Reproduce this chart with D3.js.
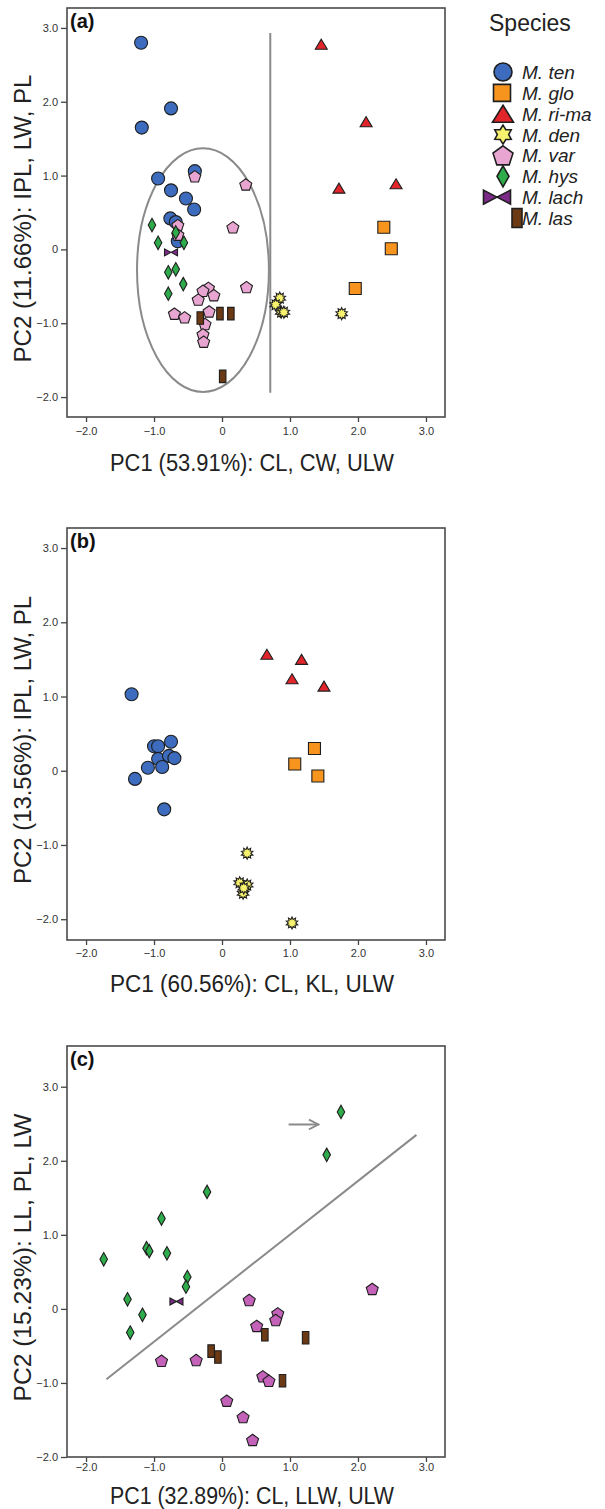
<!DOCTYPE html>
<html>
<head>
<meta charset="utf-8">
<script src="https://cdn.jsdelivr.net/npm/d3@7"></script>
<style>
  body { margin: 0; background: #fff; }
  svg { display: block; font-family: "Liberation Sans", Arial, sans-serif; }
</style>
</head>
<body>
<svg id="chart" width="605" height="1509"></svg>
<script>
// ---- data (PC1, PC2) ----
const speciesNames = ["M. ten", "M. glo", "M. ri-ma", "M. den", "M. var", "M. hys", "M. lach", "M. las"];
const tickValues = [-2, -1, 0, 1, 2, 3];

// panel (a)
const aTen = [[-1.19, 2.80], [-0.75, 1.91], [-1.18, 1.65], [-0.94, 0.96], [-0.40, 1.06], [-0.75, 0.80],
  [-0.53, 0.69], [-0.41, 0.54], [-0.76, 0.42], [-0.68, 0.37], [-0.65, 0.11]];
const aGlo = [[2.38, 0.30], [2.49, 0.01], [1.96, -0.53]];
const aRima = [[1.46, 2.78], [2.12, 1.73], [1.72, 0.83], [2.56, 0.89]];
const aDen = [[0.85, -0.66], [0.79, -0.75], [0.87, -0.85], [0.91, -0.85], [1.76, -0.87]];
const aVar = [[-0.40, 0.99], [0.35, 0.88], [-0.65, 0.33], [0.16, 0.30], [-0.65, 0.20],
  [-0.20, -0.52], [-0.28, -0.56], [-0.12, -0.62], [0.36, -0.51], [-0.70, -0.87], [-0.55, -0.92],
  [-0.35, -0.68], [-0.19, -0.84], [-0.25, -1.01], [-0.28, -1.15], [-0.27, -1.25]];
const aHys = [[-1.03, 0.33], [-0.94, 0.09], [-0.68, 0.23], [-0.56, 0.09], [-0.79, -0.31],
  [-0.68, -0.27], [-0.57, -0.47], [-0.79, -0.60]];
const aLach = [[-0.75, -0.04]];
const aLas = [[-0.32, -0.93], [-0.03, -0.87], [0.13, -0.87], [0.01, -1.72]];

// panel (b)
const bTen = [[-1.33, 1.03], [-1.00, 0.33], [-0.94, 0.33], [-0.75, 0.39], [-0.94, 0.16], [-0.78, 0.20],
  [-0.70, 0.17], [-1.09, 0.04], [-0.88, 0.05], [-1.28, -0.11], [-0.85, -0.52]];
const bGlo = [[1.36, 0.30], [1.07, 0.09], [1.41, -0.07]];
const bRima = [[0.66, 1.57], [1.17, 1.50], [1.03, 1.24], [1.50, 1.14]];
const bDen = [[0.37, -1.11], [0.26, -1.51], [0.37, -1.54], [0.31, -1.65], [0.32, -1.58], [1.03, -2.05]];

// panel (c)
const cHys = [[1.75, 2.66], [1.54, 2.08], [-0.22, 1.58], [-0.89, 1.22], [-1.11, 0.82], [-1.07, 0.78],
  [-0.81, 0.75], [-1.74, 0.67], [-0.51, 0.43], [-0.53, 0.30], [-1.39, 0.13], [-1.17, -0.08], [-1.35, -0.32]];
const cLach = [[-0.67, 0.10]];
const cVar = [[0.40, 0.12], [2.21, 0.27], [0.51, -0.23], [0.82, -0.06], [0.79, -0.15], [-0.89, -0.70],
  [-0.38, -0.69], [0.60, -0.91], [0.69, -0.97], [0.07, -1.24], [0.31, -1.46], [0.45, -1.77]];
const cLas = [[0.63, -0.35], [1.23, -0.39], [-0.16, -0.57], [-0.06, -0.65], [0.89, -0.97]];

// reference guides
const aDivider = [[0.71, 2.93], [0.71, -1.94]];
const aEllipse = { cx: -0.28, cy: -0.28, rx: 0.97, ry: 1.65 };
const cDivider = [[-1.70, -0.95], [2.86, 2.35]];
const cArrow = [[0.98, 2.49], [1.42, 2.49]];

// ---- styling ----
const style = {
  "M. ten":   { kind: "circle",   fill: "#3d6bbd", w: 13, h: 13, lw: 18, lh: 18, lx: 503 },
  "M. glo":   { kind: "square",   fill: "#f7941e", w: 12, h: 12, lw: 17, lh: 17, lx: 502 },
  "M. ri-ma": { kind: "triangle", fill: "#e2242b", w: 12, h: 10, lw: 21, lh: 17, lx: 503 },
  "M. den":   { kind: "sun",      fill: "#f7f26e", w: 12, h: 12, lw: 19, lh: 19, lx: 503 },
  "M. var":   { kind: "pentagon", fill: "#e9a5d2", w: 12, h: 12, lw: 20, lh: 19, lx: 503 },
  "M. hys":   { kind: "diamond",  fill: "#2eab4a", w: 7.5, h: 13.5, lw: 12, lh: 21, lx: 503 },
  "M. lach":  { kind: "bowtie",   fill: "#7b2a87", w: 13, h: 7, lw: 27, lh: 14, lx: 497 },
  "M. las":   { kind: "bar",      fill: "#6b3914", w: 6.5, h: 12.5, lw: 10, lh: 19, lx: 517 }
};

function shapeType(kind, w, h, legend) {
  return {
    draw(c) {
      if (kind === "circle") {
        c.moveTo(w / 2, 0); c.arc(0, 0, w / 2, 0, 2 * Math.PI);
      } else if (kind === "square" || kind === "bar") {
        c.rect(-w / 2, -h / 2, w, h);
      } else if (kind === "triangle") {
        c.moveTo(0, -h / 2); c.lineTo(w / 2, h / 2); c.lineTo(-w / 2, h / 2); c.closePath();
      } else if (kind === "sun") {
        const n = legend ? 6 : 10, ro = w / 2, ri = legend ? ro * 0.6 : ro * 0.62;
        for (let i = 0; i < 2 * n; i++) {
          const a = -Math.PI / 2 + i * Math.PI / n, r = i % 2 ? ri : ro;
          i ? c.lineTo(r * Math.cos(a), r * Math.sin(a)) : c.moveTo(r * Math.cos(a), r * Math.sin(a));
        }
        c.closePath();
      } else if (kind === "pentagon") {
        const r = w / 2 / Math.sin(2 * Math.PI / 5);
        for (let i = 0; i < 5; i++) {
          const a = -Math.PI / 2 + i * 2 * Math.PI / 5;
          i ? c.lineTo(r * Math.cos(a), r * Math.sin(a) + h * 0.05) : c.moveTo(r * Math.cos(a), r * Math.sin(a) + h * 0.05);
        }
        c.closePath();
      } else if (kind === "diamond") {
        c.moveTo(0, -h / 2); c.lineTo(w / 2, 0); c.lineTo(0, h / 2); c.lineTo(-w / 2, 0); c.closePath();
      } else if (kind === "bowtie") {
        c.moveTo(-w / 2, -h / 2); c.lineTo(0, 0); c.lineTo(w / 2, -h / 2);
        c.lineTo(w / 2, h / 2); c.lineTo(0, 0); c.lineTo(-w / 2, h / 2); c.closePath();
      }
    }
  };
}

const fmt = v => v === 0 ? "0" : d3.format(".1f")(v);

const panels = [
  { label: "(a)", top: 8, bottom: 417, yDomain: [-2.27, 3.27], xTitleY: 471, tickPad: 5,
    xTitle: "PC1 (53.91%): CL, CW, ULW", yTitle: "PC2 (11.66%): IPL, LW, PL",
    series: [["M. ten", aTen], ["M. glo", aGlo], ["M. ri-ma", aRima], ["M. den", aDen],
             ["M. var", aVar], ["M. hys", aHys], ["M. lach", aLach], ["M. las", aLas]] },
  { label: "(b)", top: 528, bottom: 940, yDomain: [-2.28, 3.27], xTitleY: 992, tickPad: 4,
    xTitle: "PC1 (60.56%): CL, KL, ULW", yTitle: "PC2 (13.56%): IPL, LW, PL",
    series: [["M. ten", bTen], ["M. glo", bGlo], ["M. ri-ma", bRima], ["M. den", bDen]] },
  { label: "(c)", top: 1046, bottom: 1457, yDomain: [-2.0, 3.55], xTitleY: 1504, tickPad: 1,
    xTitle: "PC1 (32.89%): CL, LLW, ULW", yTitle: "PC2 (15.23%): LL, PL, LW", varFill: "#c462b9",
    series: [["M. var", cVar], ["M. hys", cHys], ["M. lach", cLach], ["M. las", cLas]] }
];

const svg = d3.select("#chart");
const left = 67, right = 445;

svg.append("defs").append("marker")
  .attr("id", "arrowhead").attr("viewBox", "0 0 10 10").attr("refX", 9).attr("refY", 5)
  .attr("markerWidth", 6).attr("markerHeight", 6).attr("orient", "auto")
  .append("path").attr("d", "M1,1 L9,5 L1,9").attr("fill", "none").attr("stroke", "#8a8a8a").attr("stroke-width", 1.6);

panels.forEach((p, pi) => {
  const x = d3.scaleLinear().domain([-2.28, 3.28]).range([left, right]);
  const y = d3.scaleLinear().domain(p.yDomain).range([p.bottom, p.top]);
  const g = svg.append("g");

  // axes
  const ya = g.append("g").attr("transform", `translate(${left},0)`)
    .call(d3.axisLeft(y).tickValues(tickValues).tickFormat(fmt).tickSize(6).tickPadding(3));
  const xa = g.append("g").attr("transform", `translate(0,${p.bottom})`)
    .call(d3.axisBottom(x).tickValues(tickValues).tickFormat(fmt).tickSize(5).tickPadding(p.tickPad));
  [ya, xa].forEach(a => {
    a.select(".domain").remove();
    a.selectAll("line").attr("stroke", "#444").attr("stroke-width", 1.3);
    a.selectAll("text").attr("fill", "#333").style("font-size", "11px");
  });

  // frame
  g.append("rect").attr("x", left).attr("y", p.top).attr("width", right - left).attr("height", p.bottom - p.top)
    .attr("fill", "none").attr("stroke", "#4a4a4a").attr("stroke-width", 1.6);

  // guides
  if (pi === 0) {
    g.append("ellipse")
      .attr("cx", x(aEllipse.cx)).attr("cy", y(aEllipse.cy))
      .attr("rx", x(aEllipse.cx + aEllipse.rx) - x(aEllipse.cx))
      .attr("ry", y(aEllipse.cy) - y(aEllipse.cy + aEllipse.ry))
      .attr("fill", "none").attr("stroke", "#8a8a8a").attr("stroke-width", 2);
    g.append("path").attr("d", d3.line().x(d => x(d[0])).y(d => y(d[1]))(aDivider))
      .attr("stroke", "#8a8a8a").attr("stroke-width", 2);
  }
  if (pi === 2) {
    g.append("path").attr("d", d3.line().x(d => x(d[0])).y(d => y(d[1]))(cDivider))
      .attr("stroke", "#8a8a8a").attr("stroke-width", 2);
    g.append("path").attr("d", d3.line().x(d => x(d[0])).y(d => y(d[1]))(cArrow))
      .attr("stroke", "#8a8a8a").attr("stroke-width", 2).attr("marker-end", "url(#arrowhead)");
  }

  // points
  p.series.forEach(([name, pts]) => {
    const s = style[name];
    const fill = (name === "M. var" && p.varFill) ? p.varFill : s.fill;
    g.append("g").selectAll("path").data(pts).join("path")
      .attr("transform", d => `translate(${x(d[0])},${y(d[1])})`)
      .attr("d", d3.symbol(shapeType(s.kind, s.w, s.h, false)))
      .attr("fill", fill).attr("stroke", "#1e1e1e").attr("stroke-width", 1.1);
  });

  // panel label
  g.append("text").attr("x", left + 3).attr("y", p.top + 20).text(p.label)
    .style("font-size", "20px").style("font-weight", "bold").attr("fill", "#111");

  // axis titles
  g.append("text").attr("x", 252).attr("y", p.xTitleY).attr("text-anchor", "middle")
    .attr("textLength", 284).attr("lengthAdjust", "spacingAndGlyphs")
    .style("font-size", "23px").attr("fill", "#222").text(p.xTitle);
  const yc = (p.top + p.bottom) / 2 + 6;
  g.append("text").attr("transform", `translate(31,${yc}) rotate(-90)`).attr("text-anchor", "middle")
    .attr("textLength", 288).attr("lengthAdjust", "spacingAndGlyphs")
    .style("font-size", "23px").attr("fill", "#222").text(p.yTitle);
});

// legend
const legend = svg.append("g");
legend.append("text").attr("x", 489).attr("y", 31).text("Species")
  .style("font-size", "23px").attr("fill", "#222");
const ly = d3.scalePoint().domain(speciesNames).range([72, 218]);
speciesNames.forEach(name => {
  const s = style[name];
  legend.append("path").attr("transform", `translate(${s.lx},${ly(name)})`)
    .attr("d", d3.symbol(shapeType(s.kind, s.lw, s.lh, true)))
    .attr("fill", s.fill).attr("stroke", "#1e1e1e").attr("stroke-width", 1.6);
  legend.append("text").attr("x", 522).attr("y", ly(name) + 7).text(name)
    .style("font-size", "19px").style("font-style", "italic").attr("fill", "#222");
});
</script>
</body>
</html>
